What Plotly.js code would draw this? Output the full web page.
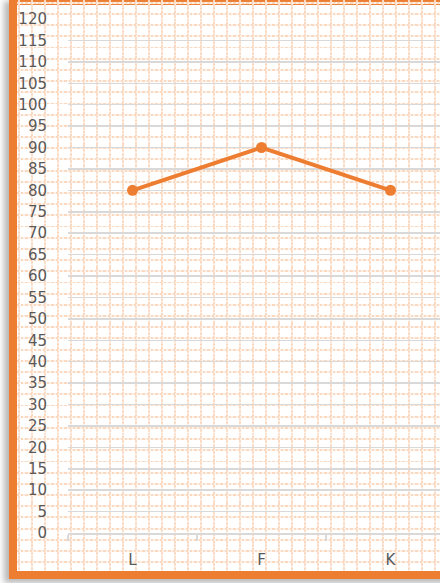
<!DOCTYPE html>
<html>
<head>
<meta charset="utf-8">
<script src="https://cdn.plot.ly/plotly-3.0.1.min.js"></script>
<style>
  html, body { margin: 0; padding: 0; width: 440px; height: 583px; overflow: hidden; background: #ffffff; }
  #frame { position: absolute; left: 9px; top: -3px; width: 460px; height: 566px; border: 8px solid #ed7d31;
           box-shadow: -5px 4px 6px rgba(0,0,0,0.28); background: #ffffff; }
  #paper { position: absolute; left: 17px; top: 0px; width: 440px; height: 571px; background-position: -17px 0px; }
  #chart { position: absolute; left: 0; top: 0; width: 480px; height: 583px; }
</style>
</head>
<body>
<div id="frame"></div>
<div id="paper"></div>
<div id="chart"></div>
<script>
// Data
const categories = ["L", "F", "K"];
const values = [80, 90, 80];
const yTickVals = [0,5,10,15,20,25,30,35,40,45,50,55,60,65,70,75,80,85,90,95,100,105,110,115,120];

// graph-paper background (decoration)
const tile = '<svg xmlns="http://www.w3.org/2000/svg" width="13" height="11.2">' +
  '<line x1="6" y1="0" x2="6" y2="11.2" stroke="#fef1e8" stroke-width="2"/>' +
  '<line x1="0" y1="2.8" x2="13" y2="2.8" stroke="#fef1e8" stroke-width="2"/>' +
  '<line x1="6" y1="0" x2="6" y2="11.2" stroke="#fbd8c0" stroke-width="2" stroke-dasharray="2 2"/>' +
  '<line x1="0" y1="2.8" x2="13" y2="2.8" stroke="#fbd8c0" stroke-width="2" stroke-dasharray="2 2"/>' +
  '</svg>';
document.getElementById('paper').style.backgroundImage = 'url("data:image/svg+xml;utf8,' + encodeURIComponent(tile) + '")';

const trace = {
  x: categories,
  y: values,
  type: 'scatter',
  mode: 'lines+markers',
  line: { color: '#ed7d31', width: 4 },
  marker: { color: '#ed7d31', size: 11 },
  hoverinfo: 'none'
};

const layout = {
  width: 480,
  height: 583,
  margin: { l: 68, r: 25, t: 19, b: 50.3 },
  paper_bgcolor: 'rgba(0,0,0,0)',
  plot_bgcolor: 'rgba(0,0,0,0)',
  showlegend: false,
  font: { family: 'DejaVu Sans, sans-serif', color: '#595959', size: 15 },
  xaxis: {
    type: 'category',
    range: [-0.5, 2.5],
    showgrid: false,
    showline: true,
    linecolor: '#d9d9d9',
    linewidth: 1.5,
    ticks: 'outside',
    tickson: 'boundaries',
    ticklen: 6,
    tickcolor: '#d9d9d9',
    tickwidth: 1.5,
    tickfont: { size: 15, color: '#595959' },
    ticklabelstandoff: 12,
    fixedrange: true
  },
  yaxis: {
    range: [0, 120],
    tickvals: yTickVals,
    ticktext: yTickVals.map(String),
    showgrid: true,
    gridcolor: '#d9d9d9',
    gridwidth: 1.5,
    zeroline: false,
    showline: false,
    ticks: '',
    tickfont: { size: 15, color: '#595959' },
    ticklabelstandoff: 20,
    fixedrange: true
  }
};

Plotly.newPlot('chart', [trace], layout, { staticPlot: true, displayModeBar: false });
</script>
</body>
</html>
